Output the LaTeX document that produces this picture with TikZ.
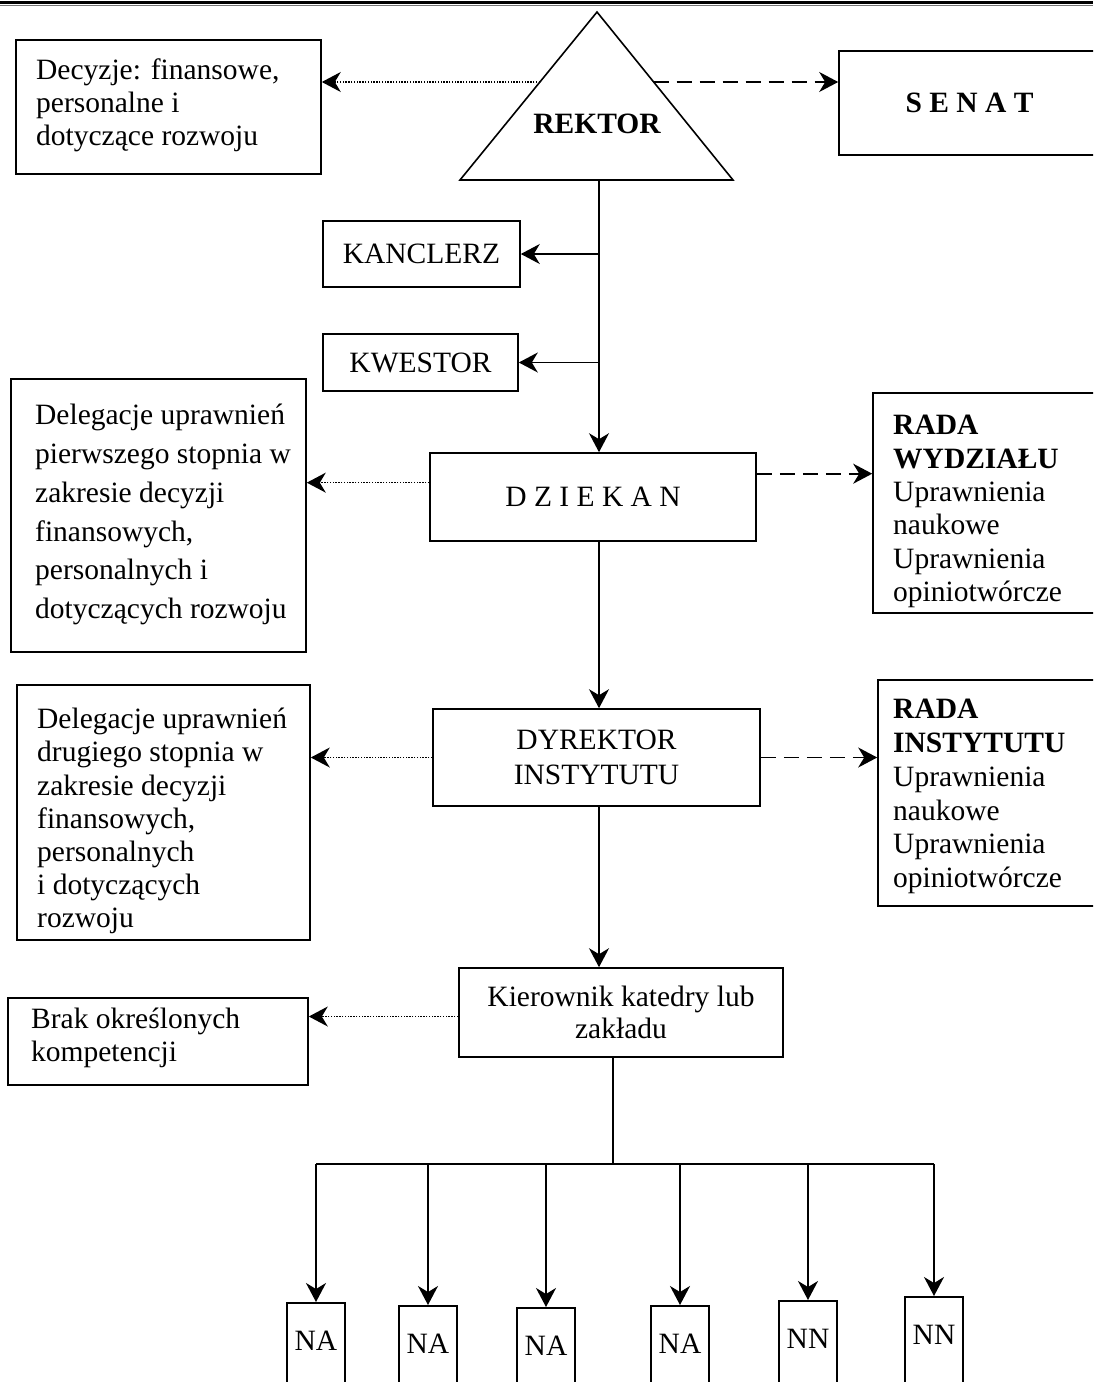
\documentclass[tikz,border=0pt]{standalone}
\usepackage{fontspec}
\setmainfont{Liberation Serif}
\usetikzlibrary{arrows.meta,calc}
\begin{document}
\begin{tikzpicture}[x=1pt,y=-1pt,
  every node/.style={font=\fontsize{29.5}{33}\selectfont},
  box/.style={draw, line width=1.6pt, inner sep=0pt},
  txt/.style={inner sep=0pt, anchor=north west, align=left},
  nbox/.style={box, minimum width=58pt, minimum height=110pt, text depth=34pt, anchor=north},
  conn/.style={line width=1.6pt, -{Stealth[length=19pt,width=20pt,inset=6pt]}},
  dotc/.style={conn, line width=1.5pt, dash pattern=on 1.4pt off 1.4pt},
  dashc/.style={conn, dash pattern=on 15pt off 8pt},
  plain/.style={line width=1.6pt}]
\useasboundingbox (0,0) rectangle (1093,1382);
\clip (0,0) rectangle (1093,1382);
% top rule
\draw[line width=3pt] (0,2) -- (1093,2);
\draw[line width=1pt, black!55] (0,5.5) -- (1093,5.5);

% REKTOR triangle
\coordinate (apex) at (597,12);
\coordinate (bl) at (460,180);
\coordinate (br) at (733,180);
\draw[plain] (apex) -- (bl) -- (br) -- cycle;
\node[font=\bfseries\fontsize{29.5}{33}\selectfont] (rektor) at (597,124) {REKTOR};
\coordinate (tL) at ($(apex)!{70/168}!(bl)$);
\coordinate (tR) at ($(apex)!{70/168}!(br)$);
\coordinate (rb) at (599,180);

% Decyzje
\node[box, minimum width=305pt, minimum height=134pt] (dec) at (168.5,107) {};
\node[txt] (dect) at (36,59) {Decyzje: finansowe,\\personalne i\\dotyczące rozwoju};

% SENAT
\node[box, minimum width=261pt, minimum height=104pt, font=\bfseries\fontsize{29.5}{33}\selectfont] (senat) at (969.5,103) {S E N A T};

\draw[dotc] (tL) -- (tL -| dec.east);
\draw[dashc] (tR) -- (tR -| senat.west);

% KANCLERZ, KWESTOR
\node[box, minimum width=197pt, minimum height=66pt] (kanc) at (421.5,254) {KANCLERZ};
\node[box, minimum width=195pt, minimum height=57pt] (kwes) at (420.5,362.5) {KWESTOR};

% DZIEKAN
\node[box, minimum width=326pt, minimum height=88pt] (dziek) at (593,497) {D Z I E K A N};
\draw[conn] (rb) -- (rb |- dziek.north);
\draw[conn] (kanc.east -| rb) -- (kanc.east);
\draw[conn] (kwes.east -| rb) -- (kwes.east);

% Delegacje 1
\node[box, minimum width=295pt, minimum height=273pt] (del1) at (158.5,515.5) {};
\node[txt, font=\fontsize{29.5}{38.8}\selectfont] (del1t) at (35,404) {Delegacje uprawnień\\pierwszego stopnia w\\zakresie decyzji\\finansowych,\\personalnych i\\dotyczących rozwoju};

% RADA WYDZIALU
\node[box, minimum width=227pt, minimum height=220pt] (radaw) at (986.5,503) {};
\node[txt, font=\fontsize{29.5}{33.4}\selectfont] (radawt) at (893,415) {\textbf{RADA}\\\textbf{WYDZIAŁU}\\Uprawnienia\\naukowe\\Uprawnienia\\opiniotwórcze};

\coordinate (dzw) at ($(dziek.north west)!0.34!(dziek.south west)$);
\coordinate (dze) at ($(dziek.north east)!0.24!(dziek.south east)$);
\draw[dotc] (dzw) -- (dzw -| del1.east);
\draw[dashc] (dze) -- (dze -| radaw.west);

% DYREKTOR
\node[box, align=center, minimum width=327pt, minimum height=97pt, font=\fontsize{29.5}{35}\selectfont] (dyr) at (596.5,757.5) {DYREKTOR\\INSTYTUTU};
\draw[conn] (rb |- dziek.south) -- (rb |- dyr.north);

% Delegacje 2
\node[box, minimum width=293pt, minimum height=255pt] (del2) at (163.5,812.5) {};
\node[txt, font=\fontsize{29.5}{33.2}\selectfont] (del2t) at (37,708) {Delegacje uprawnień\\drugiego stopnia w\\zakresie decyzji\\finansowych,\\personalnych\\i dotyczących\\rozwoju};

% RADA INSTYTUTU
\node[box, minimum width=222pt, minimum height=226pt] (radai) at (989,793) {};
\node[txt, font=\fontsize{29.5}{33.8}\selectfont] (radait) at (893,699) {\textbf{RADA}\\\textbf{INSTYTUTU}\\Uprawnienia\\naukowe\\Uprawnienia\\opiniotwórcze};

\draw[dotc] (dyr.west) -- (dyr.west -| del2.east);
\draw[dashc] (dyr.east) -- (dyr.east -| radai.west);

% Kierownik
\node[box, align=center, minimum width=324pt, minimum height=89pt, font=\fontsize{29.5}{32}\selectfont] (kier) at (621,1012.5) {Kierownik katedry lub\\zakładu};
\draw[conn] (rb |- dyr.south) -- (rb |- kier.north);

% Brak
\node[box, minimum width=300pt, minimum height=87pt] (brak) at (158,1041.5) {};
\node[txt, font=\fontsize{29.5}{33}\selectfont] (brakt) at (31,1008) {Brak określonych\\kompetencji};
\coordinate (kw) at ($(kier.west)+(0,4)$);
\draw[dotc] (kw) -- (kw -| brak.east);

% NA / NN boxes
\node[nbox] (na1) at (316,1302) {NA};
\node[nbox] (na2) at (428,1305) {NA};
\node[nbox] (na3) at (546,1307) {NA};
\node[nbox] (na4) at (680,1305) {NA};
\node[nbox] (nn5) at (808,1300) {NN};
\node[nbox] (nn6) at (934,1296) {NN};

\coordinate (kb) at ($(kier.south)+(-8,0)$);
\coordinate (bar) at ($(kb)+(0,106)$);
\draw[plain] (kb) -- (bar);
\draw[plain] (bar -| na1.north) -- (bar -| nn6.north);
\foreach \n in {na1,na2,na3,na4,nn5,nn6}{
  \draw[conn] (bar -| \n.north) -- (\n.north);
}
\end{tikzpicture}
\end{document}
